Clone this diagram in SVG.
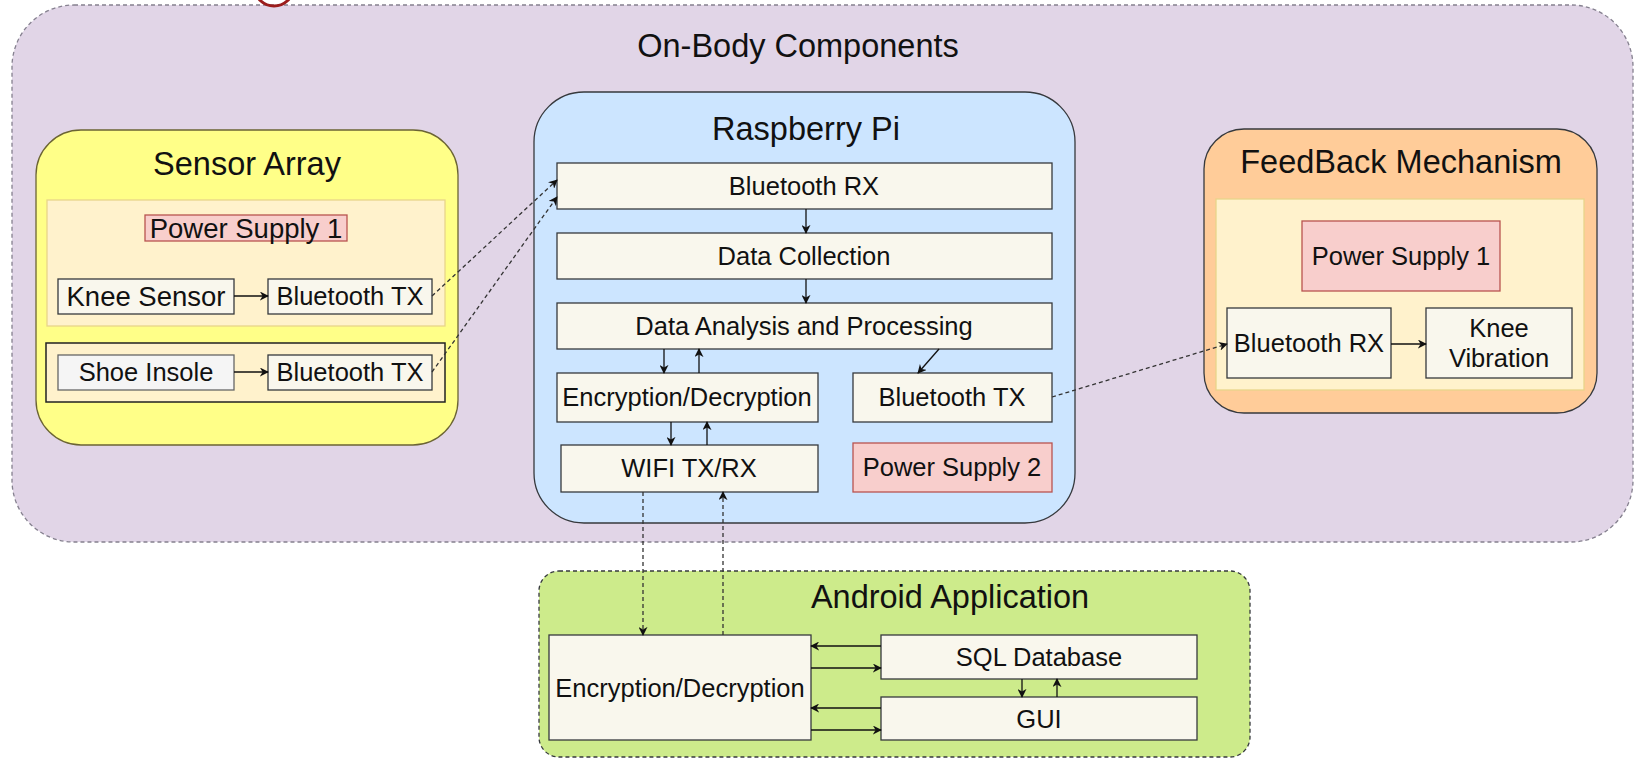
<svg xmlns="http://www.w3.org/2000/svg" width="1635" height="759" viewBox="0 0 1635 759">
<defs>
<marker id="arr" viewBox="0 0 10 10" refX="9" refY="5" markerWidth="9" markerHeight="9" markerUnits="userSpaceOnUse" orient="auto">
<path d="M0,0 L10,5 L0,10 L3,5 Z" fill="#111"/>
</marker>
<style>
text{font-family:"Liberation Sans",Arial,Helvetica,sans-serif;fill:#111;text-anchor:middle}
.t{font-size:32.5px}
.b{font-size:25.5px}
.bb{font-size:27.5px}
.box{fill:#f9f7ed;stroke:#36393d;stroke-width:1.3}
.ps{fill:#f8cecc;stroke:#b85450;stroke-width:1.3}
.cream{fill:#fff2cc;stroke:#e8d48a;stroke-width:1.3}
.c{fill:none;stroke:#111;stroke-width:1.3;marker-end:url(#arr)}
.d{fill:none;stroke:#333;stroke-width:1.3;stroke-dasharray:4 3;marker-end:url(#arr)}
</style>
</defs>
<rect width="1635" height="759" fill="#ffffff"/>
<g id="onbody">
<rect x="12" y="5" width="1621" height="537" rx="62" ry="62" fill="#e1d5e7" stroke="#85808f" stroke-width="1.3" stroke-dasharray="4 3"/>
<text class="t" x="798" y="57">On-Body Components</text>
</g>
<ellipse cx="274" cy="-12" rx="19" ry="18" fill="none" stroke="#9b1c1c" stroke-width="3"/>
<g id="sensor-array">
<rect x="36" y="130" width="422" height="315" rx="45" ry="45" fill="#ffff88" stroke="#6b6434" stroke-width="1.3"/>
<text class="t" x="247" y="175">Sensor Array</text>
<rect class="cream" x="47" y="200" width="398" height="126"/>
<g id="ps1-sensor"><rect class="ps" x="145" y="215" width="202" height="26"/><text class="bb" x="246" y="238">Power Supply 1</text></g>
<g id="knee-sensor"><rect class="box" x="58" y="279" width="176" height="35"/><text class="bb" x="146" y="306">Knee Sensor</text></g>
<g id="bt-tx-1"><rect class="box" x="268" y="279" width="164" height="35"/><text class="b" x="350" y="305">Bluetooth TX</text></g>
<rect x="46" y="343" width="399" height="59" fill="#fff2cc" stroke="#222" stroke-width="1.5"/>
<g id="shoe-insole"><rect x="58" y="355" width="176" height="35" fill="#f5f5f5" stroke="#666" stroke-width="1.3"/><text class="b" x="146" y="381">Shoe Insole</text></g>
<g id="bt-tx-2"><rect class="box" x="268" y="355" width="164" height="35"/><text class="b" x="350" y="381">Bluetooth TX</text></g>
</g>
<g id="raspberry-pi">
<rect x="534" y="92" width="541" height="431" rx="50" ry="50" fill="#cce5ff" stroke="#36393d" stroke-width="1.3"/>
<text class="t" x="806" y="140">Raspberry Pi</text>
<g id="bt-rx"><rect class="box" x="557" y="163" width="495" height="46"/><text class="b" x="804" y="195">Bluetooth RX</text></g>
<g id="data-collection"><rect class="box" x="557" y="233" width="495" height="46"/><text class="b" x="804" y="265">Data Collection</text></g>
<g id="data-analysis"><rect class="box" x="557" y="303" width="495" height="46"/><text class="b" x="804" y="335">Data Analysis and Processing</text></g>
<g id="enc-rpi"><rect class="box" x="557" y="373" width="261" height="49"/><text class="b" x="687" y="406">Encryption/Decryption</text></g>
<g id="bt-tx-rpi"><rect class="box" x="853" y="373" width="199" height="49"/><text class="b" x="952" y="406">Bluetooth TX</text></g>
<g id="wifi"><rect class="box" x="561" y="445" width="257" height="47"/><text class="b" x="689" y="477">WIFI TX/RX</text></g>
<g id="ps2"><rect class="ps" x="853" y="443" width="199" height="49"/><text class="b" x="952" y="476">Power Supply 2</text></g>
</g>
<g id="feedback">
<rect x="1204" y="129" width="393" height="284" rx="40" ry="40" fill="#ffcc99" stroke="#36393d" stroke-width="1.3"/>
<text class="t" x="1401" y="173">FeedBack Mechanism</text>
<rect class="cream" x="1216" y="199" width="368" height="191"/>
<g id="ps1-fb"><rect class="ps" x="1302" y="221" width="198" height="70"/><text class="b" x="1401" y="265">Power Supply 1</text></g>
<g id="bt-rx-fb"><rect class="box" x="1227" y="308" width="164" height="70"/><text class="b" x="1309" y="352">Bluetooth RX</text></g>
<g id="knee-vib"><rect class="box" x="1426" y="308" width="146" height="70"/><text class="b" x="1499" y="337">Knee</text><text class="b" x="1499" y="367">Vibration</text></g>
</g>
<g id="android">
<rect x="539" y="571" width="711" height="186" rx="20" ry="20" fill="#cdeb8b" stroke="#36393d" stroke-width="1.3" stroke-dasharray="4 3"/>
<text class="t" x="950" y="608">Android Application</text>
<g id="enc-android"><rect class="box" x="549" y="635" width="262" height="105"/><text class="b" x="680" y="697">Encryption/Decryption</text></g>
<g id="sql"><rect class="box" x="881" y="635" width="316" height="44"/><text class="b" x="1039" y="666">SQL Database</text></g>
<g id="gui"><rect class="box" x="881" y="697" width="316" height="43"/><text class="b" x="1039" y="728">GUI</text></g>
</g>
<g id="connectors">
<path class="c" d="M234 296 L268 296"/>
<path class="c" d="M234 372 L268 372"/>
<path class="d" d="M432 296 L557 180"/>
<path class="d" d="M432 372 L557 197"/>
<path class="c" d="M806 209 L806 233"/>
<path class="c" d="M806 279 L806 303"/>
<path class="c" d="M664 349 L664 373"/>
<path class="c" d="M699 373 L699 349"/>
<path class="c" d="M939 349 L918 373"/>
<path class="c" d="M671 422 L671 445"/>
<path class="c" d="M707 445 L707 422"/>
<path class="d" d="M1052 397 L1227 344"/>
<path class="c" d="M1391 344 L1426 344"/>
<path class="d" d="M643 492 L643 635"/>
<path class="d" d="M723 635 L723 492"/>
<path class="c" d="M881 646 L811 646"/>
<path class="c" d="M811 668 L881 668"/>
<path class="c" d="M881 708 L811 708"/>
<path class="c" d="M811 730 L881 730"/>
<path class="c" d="M1022 679 L1022 697"/>
<path class="c" d="M1057 697 L1057 679"/>
</g>
</svg>
